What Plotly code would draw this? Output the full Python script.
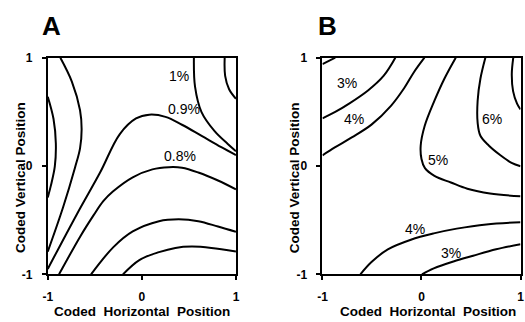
import plotly.graph_objects as go

# ---- Panel A: contour lines (coded horizontal x, coded vertical y) ----
a_top_right_loop_x = [0.880, 0.885, 0.927, 1.0]
a_top_right_loop_y = [1.0, 0.833, 0.709, 0.621]

a_1pct_x = [0.553, 0.565, 0.634, 0.773, 0.913, 1.0]
a_1pct_y = [1.0, 0.733, 0.498, 0.322, 0.204, 0.137]

a_09pct_x = [-1.0, -0.689, -0.444, -0.236, -0.062, 0.078, 0.251, 0.426, 0.635, 0.844, 1.0]
a_09pct_y = [-0.950, -0.442, -0.060, 0.293, 0.439, 0.474, 0.454, 0.381, 0.278, 0.174, 0.101]

a_08pct_x = [-0.880, -0.653, -0.514, -0.410, -0.305, -0.097, 0.112, 0.287, 0.426, 0.600, 0.809, 1.0]
a_08pct_y = [-1.0, -0.648, -0.456, -0.324, -0.233, -0.104, -0.031, -0.011, -0.016, -0.060, -0.134, -0.216]

a_low1_x = [-0.540, -0.305, -0.097, 0.182, 0.391, 0.600, 0.809, 1.0]
a_low1_y = [-1.0, -0.751, -0.604, -0.509, -0.492, -0.509, -0.559, -0.608]

a_low2_x = [-0.201, -0.027, 0.182, 0.356, 0.530, 0.739, 1.0]
a_low2_y = [-1.0, -0.868, -0.795, -0.756, -0.744, -0.756, -0.789]

a_left_outer_x = [-0.866, -0.744, -0.657, -0.640, -0.657, -0.710, -0.838, -1.0]
a_left_outer_y = [1.0, 0.780, 0.515, 0.339, 0.163, -0.013, -0.383, -0.790]

a_left_inner_x = [-1.0, -0.939, -0.914, -0.925, -0.967, -1.0]
a_left_inner_y = [0.640, 0.436, 0.207, -0.004, -0.181, -0.290]

a_label_text = ["1%", "0.9%", "0.8%"]
a_label_x = [0.391, 0.443, 0.408]
a_label_y = [0.835, 0.527, 0.093]

# ---- Panel B: contour lines ----
b_corner_loop_x = [-1.0, -0.871]
b_corner_loop_y = [0.941, 1.0]

b_3pct_top_x = [-1.0, -0.871, -0.731, -0.537, -0.383, -0.264]
b_3pct_top_y = [0.439, 0.499, 0.576, 0.700, 0.832, 1.0]

b_4pct_top_x = [-1.0, -0.871, -0.704, -0.505, -0.306, -0.174, -0.075, 0.030]
b_4pct_top_y = [0.099, 0.174, 0.264, 0.382, 0.558, 0.720, 0.868, 1.0]

b_5pct_x = [0.346, 0.231, 0.131, 0.032, -0.008, 0.0, 0.035, 0.131, 0.297, 0.463, 0.692, 1.0]
b_5pct_y = [1.0, 0.806, 0.603, 0.369, 0.188, 0.064, -0.020, -0.091, -0.152, -0.210, -0.254, -0.280]

b_6pct_x = [0.645, 0.595, 0.567, 0.567, 0.595, 0.679, 0.794, 0.910, 1.0]
b_6pct_y = [1.0, 0.806, 0.603, 0.400, 0.279, 0.190, 0.102, 0.029, -0.002]

b_top_right_loop_x = [0.927, 0.912, 0.925, 0.965, 1.0]
b_top_right_loop_y = [1.0, 0.850, 0.691, 0.576, 0.523]

b_4pct_bottom_x = [-0.617, -0.505, -0.340, -0.107, 0.124, 0.356, 0.655, 1.0]
b_4pct_bottom_y = [-1.0, -0.887, -0.769, -0.680, -0.622, -0.578, -0.539, -0.519]

b_3pct_bottom_x = [0.005, 0.124, 0.323, 0.522, 0.754, 1.0]
b_3pct_bottom_y = [-1.0, -0.945, -0.881, -0.828, -0.769, -0.722]

b_label_text = ["3%", "4%", "5%", "6%", "4%", "3%"]
b_label_x = [-0.748, -0.682, 0.164, 0.711, -0.068, 0.297]
b_label_y = [0.762, 0.438, 0.055, 0.438, -0.578, -0.799]

tick_vals = [-1, 0, 1]
tick_text = ["-1", "0", "1"]

panel_a_lines = [
    (a_top_right_loop_x, a_top_right_loop_y),
    (a_1pct_x, a_1pct_y),
    (a_09pct_x, a_09pct_y),
    (a_08pct_x, a_08pct_y),
    (a_low1_x, a_low1_y),
    (a_low2_x, a_low2_y),
    (a_left_outer_x, a_left_outer_y),
    (a_left_inner_x, a_left_inner_y),
]
panel_b_lines = [
    (b_corner_loop_x, b_corner_loop_y),
    (b_3pct_top_x, b_3pct_top_y),
    (b_4pct_top_x, b_4pct_top_y),
    (b_5pct_x, b_5pct_y),
    (b_6pct_x, b_6pct_y),
    (b_top_right_loop_x, b_top_right_loop_y),
    (b_4pct_bottom_x, b_4pct_bottom_y),
    (b_3pct_bottom_x, b_3pct_bottom_y),
]

LINE = dict(color="black", width=2, shape="spline", smoothing=1.0)
FONT = "Liberation Sans, Arial, Helvetica, sans-serif"

fig = go.Figure()
for xs, ys in panel_a_lines:
    fig.add_trace(go.Scatter(x=xs, y=ys, mode="lines", line=LINE,
                             xaxis="x", yaxis="y", hoverinfo="skip"))
for xs, ys in panel_b_lines:
    fig.add_trace(go.Scatter(x=xs, y=ys, mode="lines", line=LINE,
                             xaxis="x2", yaxis="y2", hoverinfo="skip"))

annotations = []
for t, x, y in zip(a_label_text, a_label_x, a_label_y):
    annotations.append(dict(text=t, x=x, y=y, xref="x", yref="y", showarrow=False,
                            font=dict(family=FONT, size=14, color="black")))
for t, x, y in zip(b_label_text, b_label_x, b_label_y):
    annotations.append(dict(text=t, x=x, y=y, xref="x2", yref="y2", showarrow=False,
                            font=dict(family=FONT, size=14, color="black")))

title_font = dict(family=FONT, size=13.5, color="black", weight="bold")
xtitle = "Coded&nbsp; Horizontal&nbsp; Position"
ytitle = "Coded Vertical Position"
W, H = 525, 322
for cx in (139, 430):
    annotations.append(dict(text=xtitle, x=cx / W, y=1 - 318 / H, xref="paper", yref="paper",
                            showarrow=False, xanchor="center", yanchor="middle", font=title_font))
for cx in (16, 294):
    annotations.append(dict(text=ytitle, x=cx / W, y=1 - 178 / H, xref="paper", yref="paper",
                            showarrow=False, textangle=-90, xanchor="center", yanchor="middle",
                            font=title_font))
letter_font = dict(family=FONT, size=26, color="black", weight="bold")
annotations.append(dict(text="A", x=47 / W, y=1 - 20 / H, xref="paper", yref="paper",
                        showarrow=False, xanchor="center", yanchor="middle", font=letter_font))
annotations.append(dict(text="B", x=328 / W, y=1 - 20 / H, xref="paper", yref="paper",
                        showarrow=False, xanchor="center", yanchor="middle", font=letter_font))

axis_common = dict(range=[-1, 1], tickvals=tick_vals, ticktext=tick_text,
                   showline=True, linecolor="black", linewidth=2, mirror=True,
                   ticks="outside", ticklen=4, tickwidth=1.5, tickcolor="black",
                   showgrid=False, zeroline=False, fixedrange=True,
                   tickfont=dict(family=FONT, size=12, color="black", weight="bold"))

y_dom = [1 - 279.5 / H, 1 - 53 / H]
fig.update_layout(
    width=W, height=H,
    margin=dict(l=0, r=0, t=0, b=0),
    paper_bgcolor="white", plot_bgcolor="white",
    showlegend=False,
    xaxis=dict(domain=[43.5 / W, 235 / W], anchor="y", ticklabelstandoff=6, **axis_common),
    yaxis=dict(domain=y_dom, anchor="x", ticklabelstandoff=7, **axis_common),
    xaxis2=dict(domain=[323 / W, 524.5 / W], anchor="y2", ticklabelstandoff=6, **axis_common),
    yaxis2=dict(domain=y_dom, anchor="x2", ticklabelstandoff=7, **axis_common),
    annotations=annotations,
)

fig.write_html("out.html")
